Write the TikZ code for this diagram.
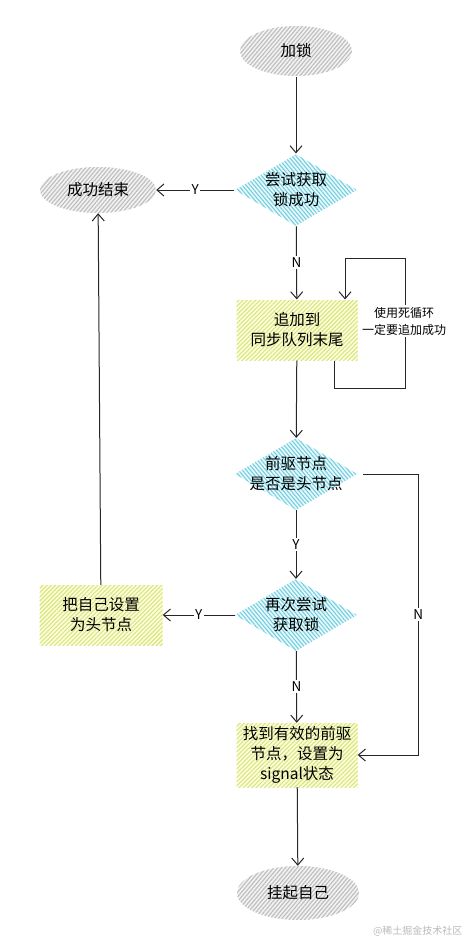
\documentclass[tikz,border=0pt]{standalone}
\usepackage{fontspec}
\setmainfont{Noto Sans CJK SC}
\usepackage{xcolor}
\usetikzlibrary{arrows.meta,shapes.geometric,patterns.meta,positioning,calc}

\definecolor{hatchgray}{HTML}{BDBDBD}
\definecolor{hatchcyan}{HTML}{72D0DC}
\definecolor{hatchyel}{HTML}{D6E683}

\begin{document}
\begin{tikzpicture}[x=1pt,y=-1pt,
    >={Straight Barb[length=7pt,width=12pt]},
    every node/.style={font=\fontsize{15.5}{20}\selectfont},
    line/.style={draw=black!85,line width=1pt},
    lbl/.style={fill=white,inner sep=1.5pt,font=\fontsize{13.5}{15}\selectfont},
    terminal/.style={ellipse,inner sep=0pt,minimum width=112pt,minimum height=50pt,
        preaction={fill=gray!10},
        pattern={Lines[angle=50,distance=3pt,line width=1.1pt]},pattern color=hatchgray},
    decision/.style={diamond,align=center,inner sep=-60pt,
        minimum width=122pt,minimum height=72pt,
        preaction={fill=cyan!8},
        pattern={Lines[angle=-50,distance=3pt,line width=1.1pt]},pattern color=hatchcyan},
    process/.style={rectangle,align=center,inner sep=2pt,
        minimum width=121pt,minimum height=60pt,
        preaction={fill=yellow!14},
        pattern={Lines[angle=45,distance=3pt,line width=1.1pt]},pattern color=hatchyel},
    note/.style={fill=white,align=center,inner sep=2pt,font=\fontsize{12}{17}\selectfont}]

    \useasboundingbox (0,0) rectangle (469,942);

    % Start and end
    \node[terminal] (lock) at (296,51) {加锁};
    \node[terminal,minimum width=116pt,minimum height=46pt] (done) at (98,190) {成功结束};
    \node[terminal,minimum width=122pt,minimum height=54pt] (park) at (298,893) {挂起自己};

    % Decisions
    \node[decision] (try) at (296,190) {尝试获取\\锁成功};
    \node[decision] (head) at (296,474) {前驱节点\\是否是头节点};
    \node[decision] (retry) at (296,615) {再次尝试\\获取锁};

    % Steps
    \node[process] (enq) at (297,330) {追加到\\同步队列末尾};
    \node[process,minimum width=123pt] (sethead) at (101,615) {把自己设置\\为头节点};
    \node[process,minimum height=64pt] (signal) at (297,755) {找到有效的前驱\\节点，设置为\\signal状态};

    % Arrows
    \foreach \a/\b in {lock/try, enq/head, signal/park} {
        \draw[line,->] (\a) -- (\b);
    }
    \draw[line,->] (try) -- (done) node[midway,lbl] {Y};
    \draw[line,->] (try) -- (enq) node[midway,lbl] {N};
    \draw[line,->] (head) -- (retry) node[midway,lbl] {Y};
    \draw[line,->] (retry) -- (sethead) node[midway,lbl] {Y};
    \draw[line,->] (retry) -- (signal) node[midway,lbl] {N};
    \draw[line,->] (sethead) -- (done);
    \draw[line,->] ([xshift=6pt]head.east) -- ++(55,0) |- (signal.east) node[pos=0.25,lbl] {N};

    % Retry loop
    \draw[line,->] ([xshift=-24pt]enq.south east) -- ++(0,28)
        -| ([xshift=47pt,yshift=41pt]enq.north east)
        -| ([xshift=-13pt]enq.north east);
    \node[note] (loopnote) at (404,321) {使用死循环\\一定要追加成功};

    \node[anchor=east,text=gray!55,font=\fontsize{10}{12}\selectfont] (mark) at (466,931) {@稀土掘金技术社区};
\end{tikzpicture}
\end{document}
